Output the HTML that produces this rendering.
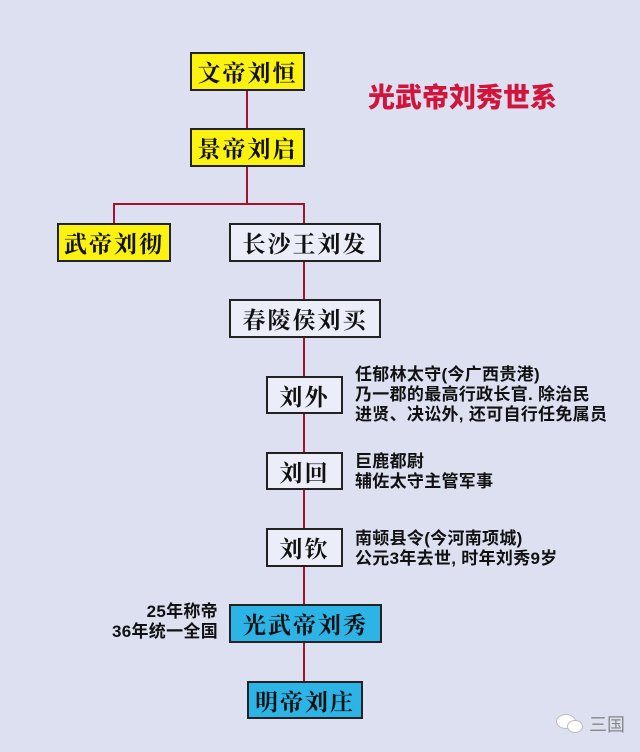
<!DOCTYPE html>
<html><head><meta charset="utf-8">
<style>
html,body{margin:0;padding:0;}
body{width:640px;height:752px;background:#dde0f1;position:relative;overflow:hidden;font-family:"Liberation Sans","Noto Sans CJK SC",sans-serif;}
.b{position:absolute;box-sizing:border-box;border:2px solid #222;display:flex;align-items:center;justify-content:center;font-family:"Liberation Serif","Noto Serif CJK SC",serif;font-weight:700;color:#111;font-size:23px;letter-spacing:2px;white-space:nowrap;}
.y{background:#fbf20f;}
.w{background:#ebeef8;}
.c{background:#2db4e6;}
.l{position:absolute;background:#a3142c;}
.t{position:absolute;font-weight:700;font-size:17px;line-height:20px;color:#111;white-space:nowrap;letter-spacing:0.3px;}
</style></head><body>
<div class="l" style="left:246px;top:91px;width:2px;height:113px"></div>
<div class="l" style="left:113px;top:203px;width:192px;height:2px"></div>
<div class="l" style="left:113px;top:203px;width:2px;height:20px"></div>
<div class="l" style="left:303px;top:203px;width:2px;height:20px"></div>
<div class="l" style="left:303px;top:262px;width:2px;height:419px"></div>

<div class="b y" style="left:190px;top:52px;width:115px;height:39px">文帝刘恒</div>
<div class="b y" style="left:190px;top:128px;width:115px;height:39px">景帝刘启</div>
<div class="b y" style="left:57px;top:223px;width:114px;height:39px">武帝刘彻</div>
<div class="b w" style="left:229px;top:223px;width:152px;height:39px">长沙王刘发</div>
<div class="b w" style="left:229px;top:299px;width:152px;height:39px">春陵侯刘买</div>
<div class="b w" style="left:266px;top:376px;width:77px;height:38px">刘外</div>
<div class="b w" style="left:266px;top:452px;width:77px;height:38px">刘回</div>
<div class="b w" style="left:266px;top:528px;width:77px;height:39px">刘钦</div>
<div class="b c" style="left:229px;top:604px;width:153px;height:39px">光武帝刘秀</div>
<div class="b c" style="left:247px;top:681px;width:116px;height:38px">明帝刘庄</div>

<div style="position:absolute;left:368px;top:82px;font-size:27px;line-height:32px;font-weight:900;color:#d0143c;white-space:nowrap;">光武帝刘秀世系</div>

<div class="t" style="left:355px;top:365px">任郁林太守(今广西贵港)<br>乃一郡的最高行政长官. 除治民<br>进贤、决讼外, 还可自行任免属员</div>
<div class="t" style="left:355px;top:452px">巨鹿都尉<br>辅佐太守主管军事</div>
<div class="t" style="left:355px;top:529px">南顿县令(今河南项城)<br>公元3年去世, 时年刘秀9岁</div>
<div class="t" style="left:110px;top:602px;width:108px;text-align:right">25年称帝<br>36年统一全国</div>

<div style="position:absolute;left:556px;top:714px;width:18px;height:13px;border-radius:50%;background:#fff;border:1px solid #bbb"></div>
<div style="position:absolute;left:567px;top:720px;width:14px;height:11px;border-radius:50%;background:#fff;border:1px solid #bbb"></div>
<div style="position:absolute;left:589px;top:711px;font-size:18px;color:#888;">三国</div>
</body></html>
